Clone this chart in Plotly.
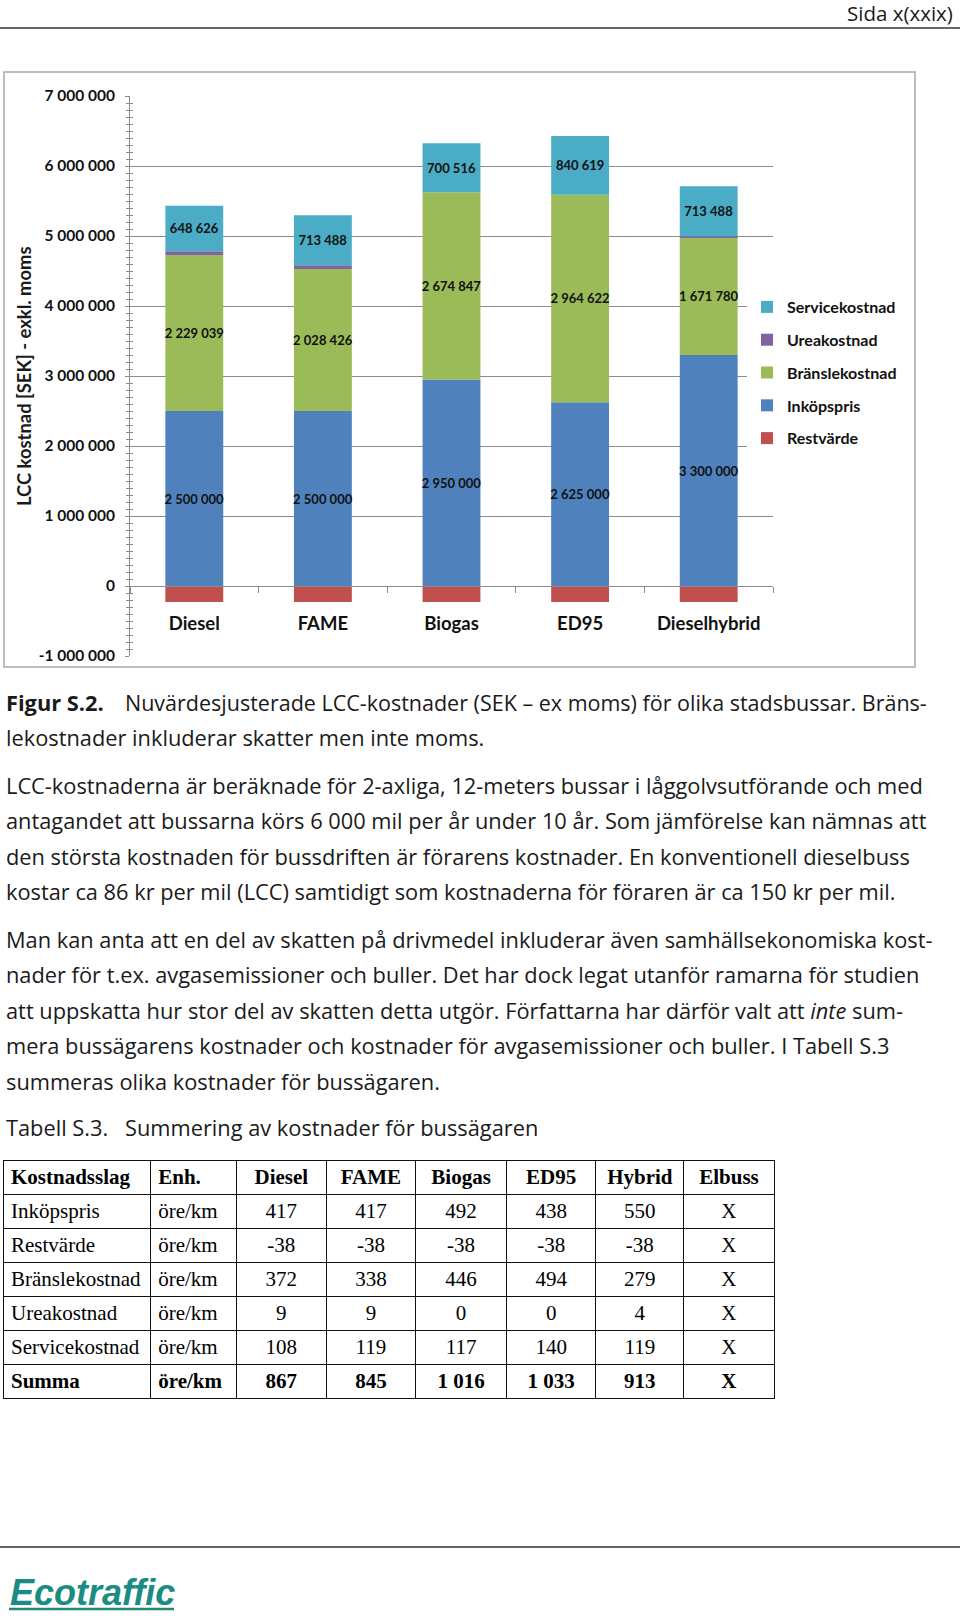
import plotly.graph_objects as go

W, H = 960, 1618

# chart data (SEK, present value)
CATEGORIES = ["Diesel", "FAME", "Biogas", "ED95", "Dieselhybrid"]
RESTVARDE = [-228000, -228000, -228000, -228000, -228000]
INKOPSPRIS = [2500000, 2500000, 2950000, 2625000, 3300000]
BRANSLEKOSTNAD = [2229039, 2028426, 2674847, 2964622, 1671780]
UREAKOSTNAD = [54000, 54000, 0, 0, 24000]
SERVICEKOSTNAD = [648626, 713488, 700516, 840619, 713488]

Y_TICKS = [-1000000, 0, 1000000, 2000000, 3000000, 4000000, 5000000, 6000000, 7000000]
Y_TICK_LABELS = ["-1 000 000", "0", "1 000 000", "2 000 000", "3 000 000",
                 "4 000 000", "5 000 000", "6 000 000", "7 000 000"]

# table data (öre/km)
TABLE_HEADER = ["Kostnadsslag", "Enh.", "Diesel", "FAME", "Biogas", "ED95", "Hybrid", "Elbuss"]
TABLE_ROWS = ["Inköpspris", "Restvärde", "Bränslekostnad", "Ureakostnad", "Servicekostnad", "Summa"]
TABLE_UNITS = ["öre/km"] * 6
TABLE_DIESEL = [417, -38, 372, 9, 108, 867]
TABLE_FAME = [417, -38, 338, 9, 119, 845]
TABLE_BIOGAS = [492, -38, 446, 0, 117, 1016]
TABLE_ED95 = [438, -38, 494, 0, 140, 1033]
TABLE_HYBRID = [550, -38, 279, 4, 119, 913]
TABLE_ELBUSS = ["X", "X", "X", "X", "X", "X"]

CAPTION_LINES = [
    "Nuvärdesjusterade LCC-kostnader (SEK – ex moms) för olika stadsbussar. Bräns-",
    "lekostnader inkluderar skatter men inte moms.",
]
PARA1 = [
    "LCC-kostnaderna är beräknade för 2-axliga, 12-meters bussar i låggolvsutförande och med",
    "antagandet att bussarna körs 6 000 mil per år under 10 år. Som jämförelse kan nämnas att",
    "den största kostnaden för bussdriften är förarens kostnader. En konventionell dieselbuss",
    "kostar ca 86 kr per mil (LCC) samtidigt som kostnaderna för föraren är ca 150 kr per mil.",
]
PARA2 = [
    "Man kan anta att en del av skatten på drivmedel inkluderar även samhällsekonomiska kost-",
    "nader för t.ex. avgasemissioner och buller. Det har dock legat utanför ramarna för studien",
    "att uppskatta hur stor del av skatten detta utgör. Författarna har därför valt att <i>inte</i> sum-",
    "mera bussägarens kostnader och kostnader för avgasemissioner och buller. I Tabell S.3",
    "summeras olika kostnader för bussägaren.",
]

FONT = "Lato, Carlito, 'Open Sans', sans-serif"
BODY_FONT = "'Open Sans', Lato, sans-serif"
SERIF = "'Liberation Serif', 'Times New Roman', serif"
GRID = "#8c8c8c"


def px(x):
    return x / W


def py(y):
    return 1 - y / H


def fmt(v):
    return f"{v:,}".replace(",", " ")


Y_MIN, Y_MAX = -1000000, 7000000
y_dom = [py(656), py(96)]
zero_pos = y_dom[0] + (0 - Y_MIN) / (Y_MAX - Y_MIN) * (y_dom[1] - y_dom[0])

fig = go.Figure()

series = [
    ("Restvärde", RESTVARDE, "#C0504D", False, 5),
    ("Inköpspris", INKOPSPRIS, "#4F81BD", True, 4),
    ("Bränslekostnad", BRANSLEKOSTNAD, "#9BBB59", True, 3),
    ("Ureakostnad", UREAKOSTNAD, "#8064A2", False, 2),
    ("Servicekostnad", SERVICEKOSTNAD, "#4BACC6", True, 1),
]
for name, vals, color, labelled, rank in series:
    fig.add_trace(go.Bar(
        x=CATEGORIES, y=vals, name=name, legendgroup=name, legendrank=rank,
        marker=dict(color=color, line=dict(width=0)),
        text=[fmt(v) for v in vals] if labelled else None,
        textposition="inside" if labelled else "none",
        insidetextanchor="middle", textangle=0, constraintext="none",
        textfont=dict(family=FONT, size=13, color="#111111", weight="bold"),
        hoverinfo="skip",
    ))

# dummy trace so the overlaid axis (crossing ticks) is drawn
fig.add_trace(go.Scatter(x=CATEGORIES, y=[None] * 5, yaxis="y2", showlegend=False,
                         mode="markers", hoverinfo="skip"))

fig.update_layout(
    width=W, height=H,
    margin=dict(l=0, r=0, t=0, b=0, autoexpand=False),
    paper_bgcolor="white", plot_bgcolor="white",
    barmode="relative", bargap=0.55,
    showlegend=True,
    legend=dict(
        x=px(747), y=py(290), xanchor="left", yanchor="top",
        bgcolor="white", traceorder="grouped", tracegroupgap=9,
        font=dict(family=FONT, size=16, color="#111111", weight="bold"),
    ),
    xaxis=dict(
        domain=[px(130), px(773)], type="category", range=[-0.5, 4.5],
        anchor="free", position=zero_pos,
        showline=True, linecolor=GRID, linewidth=1,
        ticks="outside", tickson="boundaries", ticklen=6, tickcolor=GRID,
        ticklabelstandoff=21,
        tickfont=dict(family=FONT, size=18.5, color="#111111", weight="bold"),
        showgrid=False, zeroline=False, fixedrange=True,
    ),
    yaxis=dict(
        domain=y_dom, range=[Y_MIN, Y_MAX],
        tickmode="array", tickvals=Y_TICKS, ticktext=Y_TICK_LABELS,
        showgrid=True, gridcolor=GRID, gridwidth=1, zeroline=False,
        showline=True, linecolor=GRID, linewidth=1,
        ticks="outside", ticklen=4, tickcolor=GRID,
        minor=dict(dtick=100000, tick0=0, ticks="outside", ticklen=3, tickcolor=GRID, showgrid=False),
        ticklabelstandoff=7,
        tickfont=dict(family=FONT, size=15.5, color="#111111", weight="bold"),
        fixedrange=True,
    ),
    yaxis2=dict(
        overlaying="y", anchor="x", side="left", range=[Y_MIN, Y_MAX],
        tickmode="array", tickvals=Y_TICKS, showticklabels=False,
        showgrid=False, zeroline=False, showline=False,
        ticks="inside", ticklen=4, tickcolor=GRID,
        minor=dict(dtick=100000, tick0=0, ticks="inside", ticklen=3, tickcolor=GRID, showgrid=False),
        fixedrange=True,
    ),
)

# table: body rows, then the bold "Summa" row as a second header-only table
columns = [TABLE_ROWS, TABLE_UNITS]
for col in [TABLE_DIESEL, TABLE_FAME, TABLE_BIOGAS, TABLE_ED95, TABLE_HYBRID, TABLE_ELBUSS]:
    columns.append([v if isinstance(v, str) else fmt(v) for v in col])
body = [c[:-1] for c in columns]
summa = [c[-1] for c in columns]

ROW_H = 34
T_TOP = 1160
aligns = ["left", "left"] + ["center"] * 6
col_w = [147, 86, 90, 89, 91, 89, 88, 90]
line = dict(color="#111111", width=1)
fig.add_trace(go.Table(
    domain=dict(x=[px(3), px(774)], y=[py(T_TOP + ROW_H * 6 + 20), py(T_TOP)]),
    columnwidth=col_w,
    header=dict(values=TABLE_HEADER, align=aligns, height=ROW_H, fill_color="white", line=line,
                font=dict(family=SERIF, size=21, color="black", weight="bold")),
    cells=dict(values=body, align=aligns, height=ROW_H, fill_color="white", line=line,
               font=dict(family=SERIF, size=21, color="black")),
))
fig.add_trace(go.Table(
    domain=dict(x=[px(3), px(774)], y=[py(T_TOP + ROW_H * 7 + 20), py(T_TOP + ROW_H * 6)]),
    columnwidth=col_w,
    header=dict(values=summa, align=aligns, height=ROW_H, fill_color="white", line=line,
                font=dict(family=SERIF, size=21, color="black", weight="bold")),
    cells=dict(values=[[] for _ in summa], height=ROW_H, line=dict(width=0)),
))

shapes = [
    # header rule
    dict(type="line", xref="paper", yref="paper", x0=0, x1=1, y0=py(28), y1=py(28),
         line=dict(color="#333333", width=1.5)),
    # chart frame
    dict(type="rect", xref="paper", yref="paper", x0=px(4), x1=px(915), y0=py(667), y1=py(72),
         line=dict(color="#a8a8a8", width=1.5)),
    # footer rule
    dict(type="line", xref="paper", yref="paper", x0=0, x1=1, y0=py(1547), y1=py(1547),
         line=dict(color="#333333", width=1.5)),
    # logo underline
    dict(type="line", xref="paper", yref="paper", x0=px(9), x1=px(174), y0=py(1609), y1=py(1609),
         line=dict(color="#1f8a70", width=2.5)),
]

TEXT = "#1a1a1a"
BODY = 21.8


def note(x, y, text, size=BODY, anchor="left", family=BODY_FONT, color=TEXT, **kw):
    return dict(xref="paper", yref="paper", x=px(x), y=py(y), text=text, showarrow=False,
                xanchor=anchor, yanchor="middle", align=anchor,
                font=dict(family=family, size=size, color=color), **kw)


annotations = [
    note(955, 13, "Sida x(xxix)", size=20.5, anchor="right"),
    note(24, 376, "<b>LCC kostnad [SEK] - exkl. moms</b>", size=18.4, anchor="center",
         family=FONT, textangle=-90),
    note(4, 702, "<b>Figur S.2.</b>"),
    note(123, 702, CAPTION_LINES[0], size=21.5),
    note(4, 737, CAPTION_LINES[1]),
    note(4, 1127, "Tabell S.3."),
    note(123, 1127, "Summering av kostnader för bussägaren"),
    note(8, 1592, "<b><i>Ecotraffic</i></b>", size=36, family="'Liberation Sans', Arial, sans-serif",
         color="#1a8c84"),
]
for i, txt in enumerate(PARA1):
    annotations.append(note(4, 785 + i * 35.5, txt))
for i, txt in enumerate(PARA2):
    annotations.append(note(4, 939.5 + i * 35.4, txt))

fig.update_layout(shapes=shapes, annotations=annotations)

fig.write_html(
    "out.html",
    config={"displayModeBar": False},
    post_script=(
        "document.body.style.margin='0';"
        "var d=document.getElementById('{plot_id}');"
        "d.style.position='absolute';d.style.left='0px';d.style.top='0px';"
    ),
)
